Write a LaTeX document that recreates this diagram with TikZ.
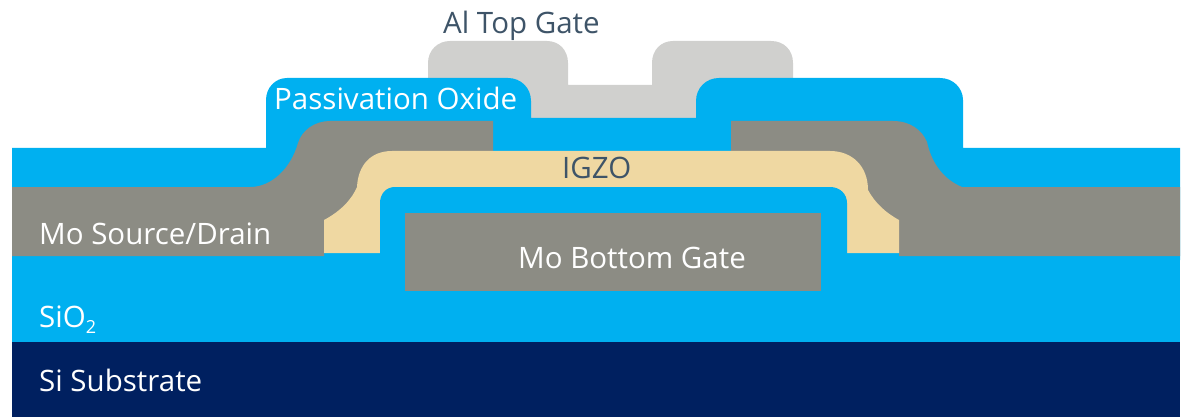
\documentclass[tikz,border=0pt]{standalone}
\usepackage{fontspec}
\setmainfont{Open Sans}
\definecolor{oxide}{RGB}{0,176,240}
\definecolor{substrate}{RGB}{0,32,96}
\definecolor{moly}{RGB}{140,140,132}
\definecolor{igzo}{RGB}{239,216,162}
\definecolor{alu}{RGB}{208,208,206}
\definecolor{labeldark}{RGB}{62,84,104}
\tikzset{
  layerlabel/.style={anchor=base west,inner sep=0pt,font=\fontsize{29.5}{33}\selectfont},
  whitelabel/.style={layerlabel,text=white},
  darklabel/.style={layerlabel,text=labeldark}
}
\begin{document}
\begin{tikzpicture}[x=1pt,y=-1pt]
\useasboundingbox (0,0) rectangle (1191,417);
% aluminium gate
\fill[alu] (428,80) -- (428,63) .. controls (428,50) and (438,41) .. (450,41) -- (547,41) .. controls (559,41) and (568,50) .. (568,63) -- (568,85) -- (652,85) -- (652,63) .. controls (652,50) and (661,41) .. (673,41) -- (771,41) .. controls (784,41) and (793,50) .. (793,63) -- (793,80) -- (793,120) -- (428,120) -- cycle;
% passivation
\fill[oxide] (12,148) -- (266,148) -- (266,100) .. controls (266,88) and (275,78) .. (287,78) -- (508,78) .. controls (521,78) and (531,88) .. (531,101) -- (531,118) -- (696,118) -- (696,101) .. controls (696,88) and (706,78) .. (719,78) -- (940,78) .. controls (953,78) and (963,88) .. (963,100) -- (963,148) -- (1180,148) -- (1180,260) -- (12,260) -- cycle;
% gate oxide
\fill[oxide] (12,256) -- (1180,256) -- (1180,342) -- (12,342) -- cycle;
\fill[substrate] (12,342) rectangle (1180,417);
% source and drain
\fill[moly] (12,187) -- (250,187) .. controls (272,187) and (291,168) .. (298,143) .. controls (302,130) and (315,121) .. (330,121) -- (493,121) -- (493,175) -- (370,175) -- (370,240) -- (324,240) -- (324,256) -- (12,256) -- cycle;
\fill[moly] (731,121) -- (893,121) .. controls (910,121) and (922,130) .. (927,142) .. controls (932,165) and (945,180) .. (962,187) -- (1180,187) -- (1180,256) -- (899,256) -- (899,240) -- (855,240) -- (855,175) -- (731,175) -- cycle;
% igzo
\fill[igzo] (324,253) -- (324,220) .. controls (341,211) and (352,199) .. (357,187) .. controls (358,166) and (370,151) .. (392,151) -- (830,151) .. controls (852,151) and (868,166) .. (868,190) .. controls (875,203) and (886,213) .. (899,220) -- (899,253) -- (847,253) -- (847,203) -- (380,203) -- (380,253) -- cycle;
% oxide bump
\fill[oxide] (380,260) -- (380,203) .. controls (380,194) and (386,187) .. (395,187) -- (830,187) .. controls (840,187) and (847,194) .. (847,203) -- (847,260) -- cycle;
\fill[moly] (405,213) rectangle (821,291);
\node[darklabel] (topgate) at (443,34) {Al Top Gate};
\node[whitelabel] (passivation) at (274,110) {Passivation Oxide};
\node[darklabel] (igzolabel) at (562,178) {IGZO};
\node[whitelabel] (sourcedrain) at (39,244) {Mo Source/Drain};
\node[whitelabel] (bottomgate) at (518,268) {Mo Bottom Gate};
\node[whitelabel] (sio) at (39,327) {SiO\raisebox{-6pt}{\fontsize{18}{18}\selectfont 2}};
\node[whitelabel] (substratelabel) at (39,391) {Si Substrate};
\end{tikzpicture}
\end{document}
